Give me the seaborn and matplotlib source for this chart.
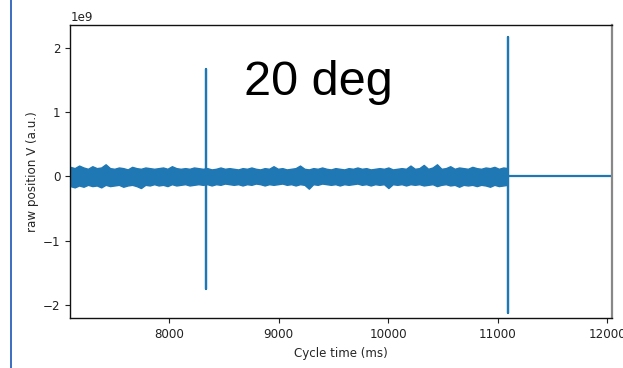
import numpy as np
import pandas as pd
import matplotlib
matplotlib.use("Agg")
import matplotlib.pyplot as plt
from matplotlib.lines import Line2D
import seaborn as sns

# ---- data (values in units of 1e9) ----
noise_upper = [0.15, 0.13, 0.17, 0.14, 0.12, 0.16, 0.13, 0.14, 0.19, 0.13,
               0.12, 0.14, 0.13, 0.11, 0.15, 0.13, 0.12, 0.14, 0.13, 0.12,
               0.13, 0.14, 0.12, 0.16, 0.13, 0.12, 0.13, 0.12, 0.14, 0.13,
               0.12, 0.13, 0.11, 0.12, 0.14, 0.12, 0.13, 0.12, 0.11, 0.13,
               0.12, 0.14, 0.12, 0.11, 0.13, 0.12, 0.16, 0.12, 0.13, 0.11,
               0.12, 0.13, 0.17, 0.12, 0.11, 0.13, 0.12, 0.14, 0.12, 0.11,
               0.13, 0.12, 0.11, 0.13, 0.12, 0.14, 0.12, 0.13, 0.11, 0.12,
               0.13, 0.12, 0.14, 0.11, 0.12, 0.13, 0.12, 0.17, 0.12, 0.13,
               0.18, 0.12, 0.14, 0.19, 0.12, 0.13, 0.16, 0.12, 0.14, 0.13,
               0.12, 0.15, 0.13, 0.12, 0.14, 0.13, 0.15, 0.12, 0.14, 0.13]
noise_lower = [-0.15, -0.17, -0.14, -0.16, -0.13, -0.15, -0.14, -0.17, -0.13, -0.15,
               -0.14, -0.13, -0.16, -0.14, -0.13, -0.15, -0.18, -0.13, -0.14, -0.12,
               -0.14, -0.13, -0.15, -0.12, -0.14, -0.13, -0.12, -0.14, -0.13, -0.12,
               -0.13, -0.12, -0.14, -0.12, -0.13, -0.11, -0.12, -0.13, -0.12, -0.14,
               -0.12, -0.13, -0.11, -0.12, -0.14, -0.12, -0.13, -0.12, -0.11, -0.13,
               -0.12, -0.14, -0.12, -0.13, -0.19, -0.12, -0.13, -0.11, -0.12, -0.13,
               -0.12, -0.14, -0.12, -0.13, -0.12, -0.11, -0.13, -0.12, -0.14, -0.12,
               -0.13, -0.12, -0.18, -0.12, -0.13, -0.12, -0.14, -0.12, -0.13, -0.12,
               -0.14, -0.13, -0.12, -0.15, -0.13, -0.12, -0.14, -0.13, -0.16, -0.13,
               -0.14, -0.13, -0.15, -0.13, -0.14, -0.16, -0.13, -0.15, -0.14, -0.13]
noise_start_ms = 7096
noise_end_ms = 11090

spike_t = [8332, 8332, 8332, 8332, 11095, 11095, 11095, 11095, 12060]
spike_v = [0.0, 1.67, -1.76, 0.0, 0.0, 2.17, -2.13, 0.0, 0.0]

x_ticks = [8000, 9000, 10000, 11000, 12000]
y_ticks = [-2, -1, 0, 1, 2]
title_text = "20 deg"
x_label = "Cycle time (ms)"
y_label = "raw position V (a.u.)"

# ---- figure ----
sns.set_theme(style="ticks")
plt.rcParams['font.family'] = ['DejaVu Sans']
fig = plt.figure(figsize=(6.23, 3.68), dpi=100)
ax = fig.add_axes([0.1128, 0.135, 0.8691, 0.797])

blue = "#1f77b4"
noise_t = np.linspace(noise_start_ms, noise_end_ms, len(noise_upper))
ax.fill_between(noise_t, np.array(noise_lower) * 1e9, np.array(noise_upper) * 1e9,
                color=blue, linewidth=1.0, edgecolor=blue)

df = pd.DataFrame({"t": spike_t, "v": np.array(spike_v) * 1e9})
sns.lineplot(data=df, x="t", y="v", ax=ax, estimator=None, sort=False,
             color=blue, linewidth=1.6)

ax.set_xlim(7096, 12040)
ax.set_ylim(-2.21e9, 2.36e9)
ax.set_xticks(x_ticks)
ax.set_yticks([v * 1e9 for v in y_ticks])
ax.tick_params(labelsize=8.6, length=3.5, width=0.8, colors="#222222")
ax.yaxis.get_offset_text().set_fontsize(8.6)
ax.set_xlabel(x_label, fontsize=8.6, labelpad=4)
ax.set_ylabel(y_label, fontsize=8.6, labelpad=3)
for s in ax.spines.values():
    s.set_linewidth(1.0)
    s.set_color("#111111")
ax.spines["right"].set_color("#888888")
ax.spines["right"].set_linewidth(1.6)

ax.text(0.459, 0.761, title_text, transform=ax.transAxes, ha="center", va="baseline",
        fontsize=35, family=["Liberation Sans", "DejaVu Sans"], color="black")

fig.add_artist(Line2D([10.5 / 623, 10.5 / 623], [0, 1], transform=fig.transFigure,
                      color="#3b6cc0", linewidth=1.4))

fig.savefig("out.png", dpi=100)
